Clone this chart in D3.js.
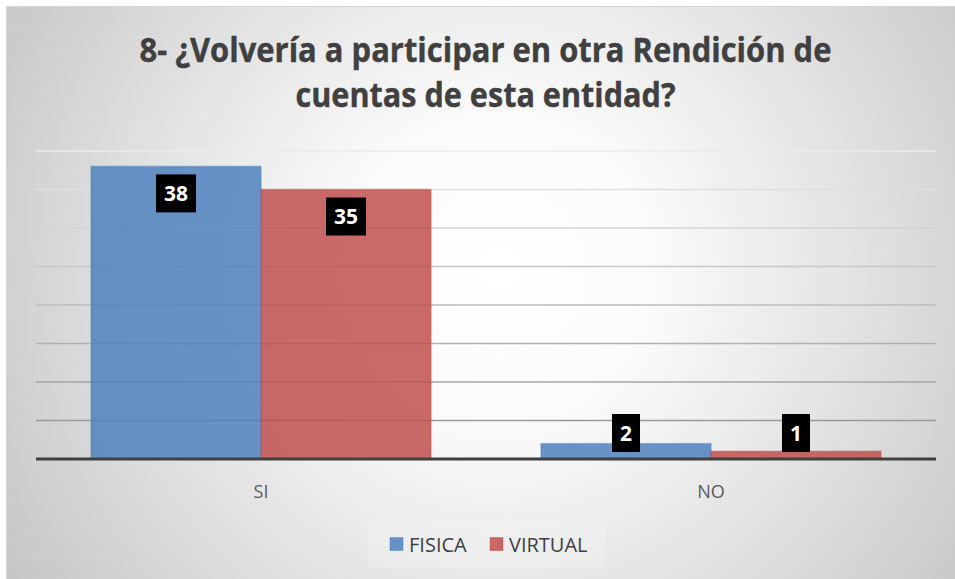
<!DOCTYPE html>
<html>
<head>
<meta charset="utf-8">
<script src="https://cdn.jsdelivr.net/npm/d3@7"></script>
<style>
  html, body { margin: 0; padding: 0; background: #ffffff; }
  svg { display: block; }
</style>
</head>
<body>
<svg id="chart" width="955" height="579"></svg>
<script>
const titleLines = ["8- ¿Volvería a participar en otra Rendición de", "cuentas de esta entidad?"];
const categories = ["SI", "NO"];
const seriesNames = ["FISICA", "VIRTUAL"];
const fisicaValues = [38, 2];
const virtualValues = [35, 1];
const seriesColors = ["#4F81BD", "#C0504D"];
const yMax = 40;

const svg = d3.select("#chart");
const defs = svg.append("defs");
const grad = defs.append("radialGradient")
  .attr("id", "bg").attr("gradientUnits", "userSpaceOnUse")
  .attr("cx", 500).attr("cy", 270).attr("r", 600);
[[0, "#ffffff"], [0.25, "#fbfbfb"], [0.6, "#e2e2e2"], [1, "#c3c3c3"]].forEach(s =>
  grad.append("stop").attr("offset", s[0]).attr("stop-color", s[1]));

svg.append("rect").attr("x", 6.5).attr("y", 6.5).attr("width", 960).attr("height", 590)
  .attr("fill", "url(#bg)").attr("stroke", "#d6d6d6").attr("stroke-width", 1);

// Title
const title = svg.append("g");
const titleY = [61.5, 106.5];
const titleW = [692, 380];
titleLines.forEach((t, i) => {
  title.append("text")
    .attr("x", 485.5).attr("y", titleY[i])
    .attr("text-anchor", "middle")
    .attr("font-family", "'Open Sans', sans-serif")
    .attr("font-weight", "bold")
    .attr("font-size", 33.5)
    .attr("fill", "#404040")
    .attr("stroke", "#404040").attr("stroke-width", 0.4)
    .attr("textLength", titleW[i])
    .attr("lengthAdjust", "spacingAndGlyphs")
    .text(t);
});

// Scales
const x0 = d3.scaleBand().domain(categories).range([36, 936])
  .paddingInner(110 / 450).paddingOuter(55 / 450);
const x1 = d3.scaleBand().domain(seriesNames).range([0, x0.bandwidth()]);
const y = d3.scaleLinear().domain([0, yMax]).range([459, 151]);

// Gridlines
const ticks = y.ticks(8).filter(d => d > 0);
const gridColor = d3.scaleLinear().domain([yMax, 5]).range(["#ebebeb", "#9a9a9a"]);
svg.append("g").selectAll("line").data(ticks).join("line")
  .attr("x1", 36).attr("x2", 936)
  .attr("y1", d => y(d)).attr("y2", d => y(d))
  .attr("stroke", d => gridColor(d)).attr("stroke-width", 1.5);

// Bars
const rows = categories.map((c, i) => ({ cat: c, vals: [fisicaValues[i], virtualValues[i]] }));
const groups = svg.append("g").selectAll("g").data(rows).join("g")
  .attr("transform", d => `translate(${x0(d.cat)},0)`);
groups.selectAll("rect").data(d => d.vals.map((v, j) => ({ v, s: seriesNames[j], c: seriesColors[j] })))
  .join("rect")
  .attr("x", d => x1(d.s))
  .attr("y", d => y(d.v))
  .attr("width", x1.bandwidth())
  .attr("height", d => y(0) - y(d.v))
  .attr("fill", d => d.c).attr("fill-opacity", 0.85)
  .attr("stroke", d => d.c).attr("stroke-opacity", 0.45).attr("stroke-width", 1.5);

// Baseline
svg.append("line").attr("x1", 36).attr("x2", 936).attr("y1", y(0)).attr("y2", y(0))
  .attr("stroke", "#404040").attr("stroke-width", 2.8);

// Data labels
groups.each(function (d) {
  const g = d3.select(this);
  d.vals.forEach((v, j) => {
    const cx = x1(seriesNames[j]) + x1.bandwidth() / 2;
    const cy = Math.min(y(v) + 27, y(0) - 26);
    const lg = g.append("g");
    const txt = lg.append("text")
      .attr("x", cx).attr("y", cy).attr("dy", "0.36em")
      .attr("text-anchor", "middle")
      .attr("font-family", "'Open Sans', sans-serif")
      .attr("font-weight", "bold").attr("font-size", 21)
      .attr("fill", "#ffffff").text(v);
    const w = txt.node().getBBox().width + 16;
    lg.insert("rect", "text")
      .attr("x", cx - w / 2).attr("y", cy - 19)
      .attr("width", w).attr("height", 38)
      .attr("fill", "#000000");
  });
});

// Category labels
svg.append("g").selectAll("text").data(categories).join("text")
  .attr("x", d => x0(d) + x0.bandwidth() / 2)
  .attr("y", 497.5)
  .attr("text-anchor", "middle")
  .attr("font-family", "'Open Sans', sans-serif")
  .attr("font-size", 18)
  .attr("fill", "#595959")
  .text(d => d);

// Legend
svg.append("rect").attr("x", 368).attr("y", 521).attr("width", 237).attr("height", 47)
  .attr("fill", "#ffffff").attr("fill-opacity", 0.15);
const legendX = [390, 490];
const leg = svg.append("g").selectAll("g").data(seriesNames).join("g")
  .attr("transform", (d, i) => `translate(${legendX[i]},0)`);
leg.append("rect").attr("x", 0).attr("y", 537.5).attr("width", 13).attr("height", 13)
  .attr("fill", (d, i) => seriesColors[i]).attr("fill-opacity", 0.85)
  .attr("stroke", (d, i) => seriesColors[i]).attr("stroke-opacity", 0.45);
leg.append("text").attr("x", 19).attr("y", 551.5)
  .attr("font-family", "'Open Sans', sans-serif")
  .attr("font-size", 20)
  .attr("fill", "#404040")
  .text(d => d);
</script>
</body>
</html>
